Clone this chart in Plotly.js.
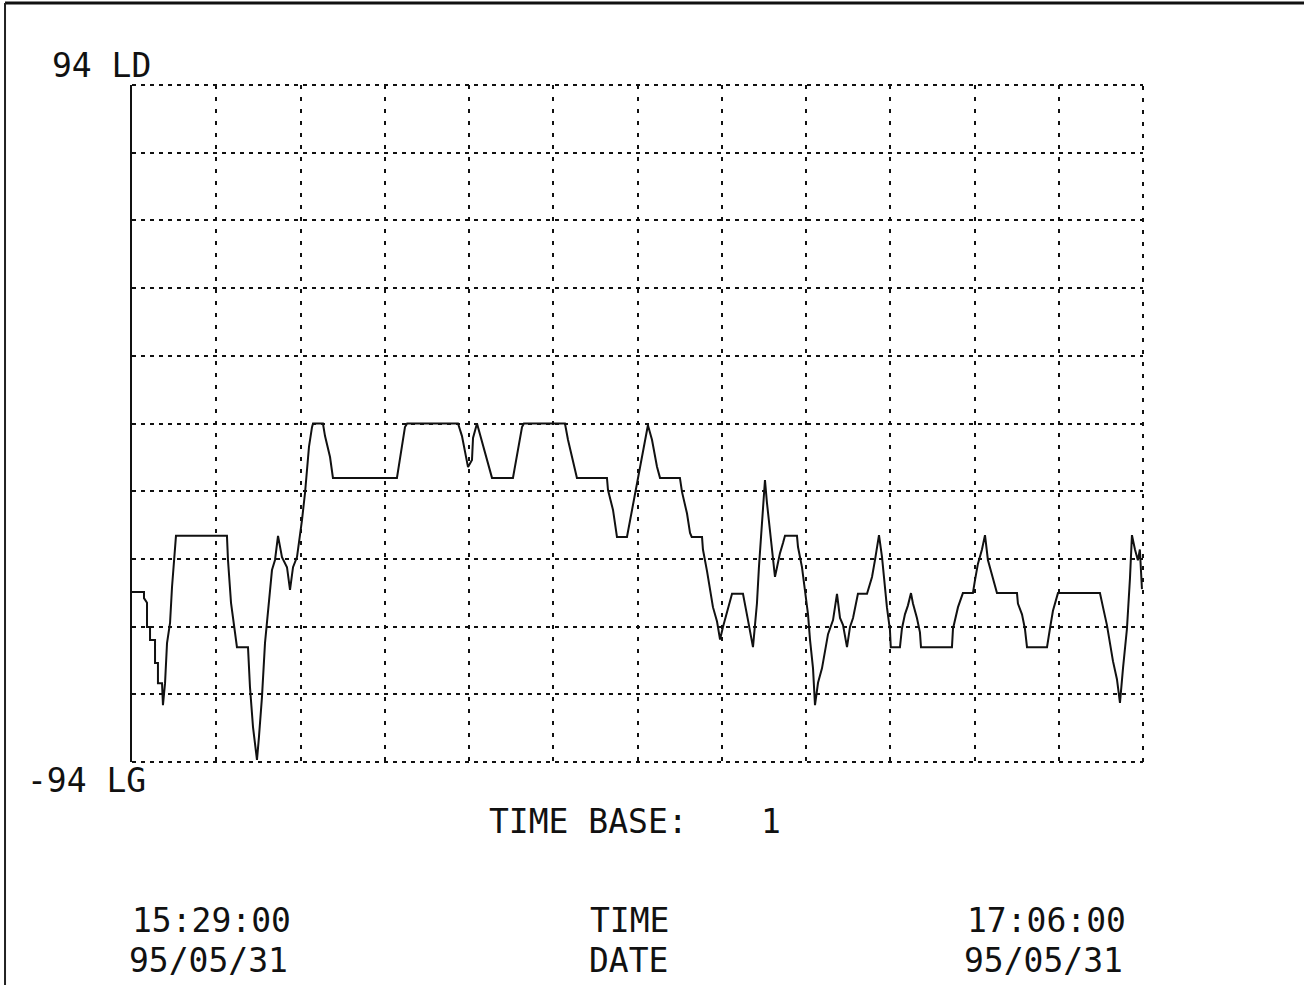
<!DOCTYPE html>
<html>
<head>
<meta charset="utf-8">
<script src="https://cdn.plot.ly/plotly-3.0.1.min.js"></script>
<style>html,body{margin:0;padding:0;background:#fff;}#chart{width:1304px;height:985px;}</style>
</head>
<body>
<div id="chart"></div>
<script>
// elapsed minutes since 15:29:00
const timeMin = [
  0,1.15,1.15,1.44,1.44,1.73,1.73,2.21,2.21,2.49,
  2.49,2.88,2.97,3.17,3.36,3.65,3.84,4.03,4.22,9.11,
  9.21,9.50,9.79,10.07,11.13,11.32,11.61,11.90,11.99,12.18,
  12.47,12.76,13.05,13.43,13.72,14.01,14.39,14.87,15.16,15.45,
  15.83,16.12,16.31,16.60,16.79,16.98,17.27,17.37,18.32,18.52,
  19.00,19.28,25.42,25.71,26.19,26.40,31.28,31.66,31.95,32.24,
  32.62,32.72,33.10,33.58,34.06,34.54,36.55,36.75,37.03,37.42,
  37.60,41.54,41.83,42.31,42.69,45.57,45.67,46.15,46.53,47.49,
  47.78,48.07,48.55,49.02,49.50,49.89,50.37,50.66,52.57,52.77,
  53.25,53.54,53.70,54.69,54.78,55.17,55.46,55.74,56.13,56.42,
  56.70,57.09,57.38,57.57,58.62,58.82,59.10,59.58,59.96,60.15,
  60.44,60.73,60.92,61.21,61.50,61.69,61.88,62.17,62.46,62.65,
  63.80,63.90,64.28,64.57,64.86,65.05,65.34,65.53,65.82,66.20,
  66.49,66.78,67.26,67.64,67.93,68.22,68.60,68.89,69.18,69.56,
  69.65,70.52,71.00,71.28,71.57,71.67,71.96,72.15,72.43,72.72,
  72.80,73.68,73.87,74.16,74.45,74.74,74.93,75.31,75.60,75.70,
  78.67,78.77,79.25,79.72,80.68,80.88,81.16,81.55,81.84,82.12,
  82.60,82.99,84.91,85.00,85.39,85.67,85.87,87.79,88.07,88.36,
  88.84,92.87,93.16,93.54,93.83,94.12,94.50,94.79,95.08,95.46,
  95.75,95.94,96.23,96.51,96.70,96.90
];
const level = [
  -46.8,-46.8,-48.5,-49.8,-56.5,-56.5,-60.1,-60.1,-66.5,-66.5,
  -72.1,-72.1,-78.2,-72.1,-61.0,-55.4,-45.4,-37.9,-31.2,-31.2,
  -37.9,-49.8,-56.5,-62.1,-62.1,-73.2,-84.3,-91.5,-93.4,-87.1,
  -76.0,-61.0,-51.8,-40.7,-37.9,-31.2,-37.1,-39.9,-46.2,-39.9,
  -37.1,-31.5,-26.8,-19.3,-12.9,-6.5,-1.0,0,0,-3.5,
  -9.3,-15.1,-15.1,-9.3,-1.0,0,0,-3.5,-8.2,-12.1,
  -10.1,-4.0,0,-5.0,-10.1,-15.1,-15.1,-12.0,-7.5,-1.0,
  0,0,-4.5,-10.0,-15.1,-15.1,-18.5,-24.0,-31.5,-31.5,
  -27.0,-22.0,-15.0,-7.5,-0.5,-4.5,-12.0,-15.1,-15.1,-19.0,
  -25.0,-30.4,-31.5,-31.5,-35.0,-41.0,-46.0,-51.0,-55.0,-60.0,
  -56.5,-52.0,-49.0,-47.3,-47.3,-50.0,-54.6,-62.1,-50.0,-40.0,
  -28.0,-15.7,-22.0,-30.0,-38.0,-42.6,-40.0,-36.0,-33.2,-31.2,
  -31.2,-34.3,-39.9,-46.0,-53.0,-60.0,-68.0,-78.2,-72.0,-68.0,
  -63.0,-58.5,-54.6,-47.3,-54.0,-56.0,-62.1,-56.5,-54.0,-49.0,
  -47.3,-47.3,-42.6,-38.0,-33.0,-31.0,-37.1,-43.0,-51.0,-57.3,
  -62.1,-62.1,-57.0,-53.0,-50.5,-47.1,-50.0,-54.0,-58.0,-62.1,
  -62.1,-57.0,-51.0,-47.1,-47.1,-43.5,-39.0,-35.0,-31.0,-37.9,
  -42.6,-47.1,-47.1,-50.0,-53.0,-57.0,-62.1,-62.1,-57.0,-52.0,
  -47.1,-47.1,-51.0,-56.0,-61.0,-66.0,-71.0,-77.6,-68.0,-57.0,
  -43.0,-31.0,-35.0,-38.0,-35.0,-46.0
];
const yMax = 94, yMin = -94;
const yTopLabel = "94 LD";
const yBottomLabel = "-94 LG";
const totalMinutes = 97;
const xDivisions = 12;
const yDivisions = 10;
const timeBaseLabel = "TIME BASE:";
const timeBaseValue = "1";
const startTime = "15:29:00", startDate = "95/05/31";
const endTime = "17:06:00", endDate = "95/05/31";
const midLabels = ["TIME", "DATE"];

const font = {family: "DejaVu Sans Mono", size: 33, color: "#111"};
const ann = (text, x, y) => ({text, x, y, xref: "paper", yref: "paper", xanchor: "left", yanchor: "middle", showarrow: false, font});

const trace = {
  x: timeMin, y: level, type: "scatter", mode: "lines",
  line: {color: "#111", width: 2}, hoverinfo: "skip"
};

const dotLine = {color: "#111", width: 2, dash: "4px,5px"};
const layout = {
  width: 1304, height: 985,
  margin: {l: 132, r: 161, t: 85, b: 223},
  paper_bgcolor: "#fff", plot_bgcolor: "#fff",
  showlegend: false,
  xaxis: {
    range: [0, totalMinutes], tick0: 0, dtick: totalMinutes / xDivisions,
    showgrid: true, gridcolor: "#111", gridwidth: 2, griddash: "4px,8px",
    zeroline: false, showline: false, showticklabels: false, ticks: "", fixedrange: true
  },
  yaxis: {
    range: [yMin, yMax], tick0: 0, dtick: (yMax - yMin) / yDivisions,
    showgrid: true, gridcolor: "#111", gridwidth: 2, griddash: "4px,5px",
    zeroline: false, showline: true, linecolor: "#111", linewidth: 2,
    showticklabels: false, ticks: "", fixedrange: true
  },
  shapes: [
    // plot border (dotted top/right/bottom)
    {type: "line", xref: "paper", yref: "paper", x0: 0, x1: 1, y0: 1, y1: 1, line: dotLine},
    {type: "line", xref: "paper", yref: "paper", x0: 0, x1: 1, y0: 0, y1: 0, line: dotLine},
    {type: "line", xref: "paper", yref: "paper", x0: 1, x1: 1, y0: 0, y1: 1, line: {color: "#111", width: 2, dash: "4px,8px"}},
    // page frame
    {type: "line", xref: "paper", yref: "paper", x0: -0.1256, x1: 1.16, y0: 1.1211, y1: 1.1211, line: {color: "#111", width: 3}},
    {type: "line", xref: "paper", yref: "paper", x0: -0.1256, x1: -0.1256, y0: 1.1211, y1: -0.33, line: {color: "#222", width: 2}}
  ],
  annotations: [
    ann(yTopLabel, -0.081, 1.0295),
    ann(yBottomLabel, -0.106, -0.0266),
    ann(timeBaseLabel, 0.351, -0.0886),
    ann(timeBaseValue, 0.620, -0.0886),
    ann(startTime, -0.002, -0.2334),
    ann(startDate, -0.005, -0.2925),
    ann(midLabels[0], 0.451, -0.2334),
    ann(midLabels[1], 0.450, -0.2925),
    ann(endTime, 0.824, -0.2334),
    ann(endDate, 0.821, -0.2925)
  ]
};

Plotly.newPlot("chart", [trace], layout, {displayModeBar: false, staticPlot: true});
</script>
</body>
</html>
